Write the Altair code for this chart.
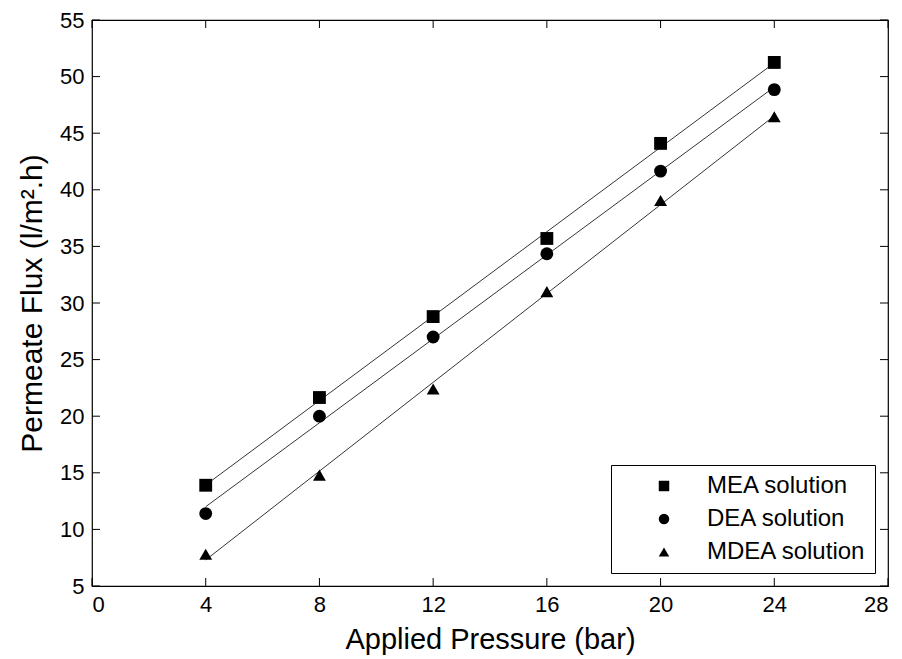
import altair as alt
import pandas as pd

pressure = [4, 8, 12, 16, 20, 24]
mea = [13.9, 21.65, 28.8, 35.7, 44.1, 51.25]
dea = [11.4, 20.0, 27.0, 34.35, 41.65, 48.85]
mdea = [7.8, 14.8, 22.4, 31.0, 39.05, 46.45]
series_names = ["MEA solution", "DEA solution", "MDEA solution"]
shapes = ["square", "circle", "triangle-up"]
x_ticks = [0, 4, 8, 12, 16, 20, 24, 28]
y_ticks = [5, 10, 15, 20, 25, 30, 35, 40, 45, 50, 55]

rows = []
for name, vals in zip(series_names, [mea, dea, mdea]):
    for p, v in zip(pressure, vals):
        rows.append({"pressure": p, "flux": v, "series": name})
df = pd.DataFrame(rows)
xt = pd.DataFrame({"pressure": x_ticks})
yt = pd.DataFrame({"flux": y_ticks})

W, H = 796, 566
FONT = "Liberation Sans"
TL = 8

xscale = alt.Scale(domain=[0, 28], nice=False, zero=False)
yscale = alt.Scale(domain=[5, 55], nice=False, zero=False)

xaxis = alt.Axis(values=x_ticks, title="Applied Pressure (bar)", ticks=False,
                 domain=False, grid=False, labelFontSize=22, labelFont=FONT,
                 labelPadding=8, titleFontSize=29, titleFont=FONT,
                 titleFontWeight="normal", titlePadding=10, labelColor="black",
                 titleColor="black")
yaxis = alt.Axis(values=y_ticks, title="Permeate Flux (l/m².h)", ticks=False,
                 domain=False, grid=False, labelFontSize=22, labelFont=FONT,
                 labelPadding=8, titleFontSize=30, titleFont=FONT,
                 titleFontWeight="normal", titlePadding=12, labelColor="black",
                 titleColor="black")

X = alt.X("pressure:Q", scale=xscale, axis=xaxis)
Y = alt.Y("flux:Q", scale=yscale, axis=yaxis)

base = alt.Chart(df)

lines = base.transform_regression(
    "pressure", "flux", groupby=["series"], extent=[4, 24]
).mark_line(color="black", strokeWidth=0.8).encode(x=X, y=Y, detail="series:N")

points = base.mark_point(filled=True, color="black", opacity=1).encode(
    x=X,
    y=Y,
    shape=alt.Shape("series:N",
                    scale=alt.Scale(domain=series_names, range=shapes),
                    legend=alt.Legend(title=None, orient="none", legendX=519, legendY=445,
                                      strokeColor="black", fillColor="white", padding=9,
                                      labelFontSize=24, labelFont=FONT, labelColor="black",
                                      labelLimit=400,
                                      symbolSize=110, symbolFillColor="black",
                                      symbolStrokeColor="black", symbolOpacity=1,
                                      symbolOffset=32, labelOffset=31, rowPadding=9,
                                      cornerRadius=0)),
    size=alt.value(165),
)

tick_style = dict(color="black", strokeWidth=1)
xb = alt.Chart(xt).mark_rule(**tick_style).encode(
    x=X, y=alt.value(H), y2=alt.value(H - TL))
xtop = alt.Chart(xt).mark_rule(**tick_style).encode(
    x=X, y=alt.value(0), y2=alt.value(TL))
yl = alt.Chart(yt).mark_rule(**tick_style).encode(
    y=Y, x=alt.value(0), x2=alt.value(TL))
yr = alt.Chart(yt).mark_rule(**tick_style).encode(
    y=Y, x=alt.value(W), x2=alt.value(W - TL))

chart = alt.layer(lines, xb, xtop, yl, yr, points).properties(
    width=W, height=H,
    autosize=alt.AutoSizeParams(type="none"),
    padding={"left": 84, "top": 12, "right": 6, "bottom": 72},
    background="white",
).configure_view(stroke="black", strokeWidth=1.2)

chart.save("out.html", embed_options={"renderer": "svg", "actions": False})
